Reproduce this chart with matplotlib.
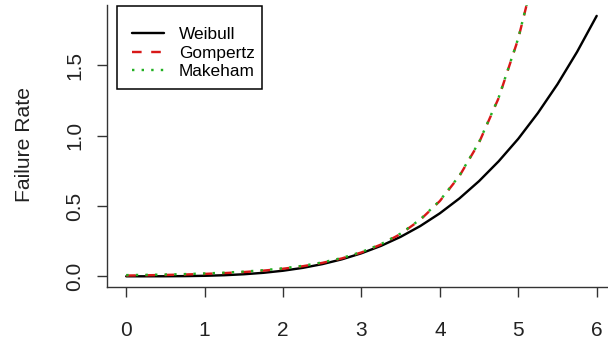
import matplotlib
matplotlib.use("Agg")
import matplotlib.pyplot as plt
from matplotlib.patches import Rectangle

# time grid and failure rates
t = [0.0, 0.25, 0.5, 0.75, 1.0, 1.25, 1.5, 1.75, 2.0, 2.25, 2.5, 2.75, 3.0,
     3.25, 3.5, 3.75, 4.0, 4.25, 4.5, 4.75, 5.0, 5.25, 5.5, 5.75, 6.0]
weibull = [0.0, 0.0000, 0.0003, 0.0013, 0.0035, 0.0076, 0.0145, 0.0248, 0.0396,
           0.0598, 0.0865, 0.1207, 0.1637, 0.2166, 0.2807, 0.3574, 0.448, 0.554,
           0.677, 0.818, 0.978, 1.161, 1.366, 1.596, 1.852]
gompertz = [0.0054, 0.0072, 0.0096, 0.0127, 0.0170, 0.0227, 0.0302, 0.0403, 0.0537,
            0.0715, 0.0954, 0.1271, 0.1695, 0.2259, 0.3012, 0.4015, 0.5352, 0.7135,
            0.9512, 1.268, 1.690, 2.253, 3.00, 4.00, 5.33]
makeham = [0.0084, 0.0102, 0.0126, 0.0157, 0.0200, 0.0257, 0.0332, 0.0433, 0.0567,
           0.0745, 0.0984, 0.1301, 0.1725, 0.2289, 0.3042, 0.4045, 0.5382, 0.7165,
           0.9542, 1.271, 1.693, 2.256, 3.00, 4.00, 5.33]

labels = ["Weibull", "Gompertz", "Makeham"]
xticks = [0, 1, 2, 3, 4, 5, 6]
yticks = [0.0, 0.5, 1.0, 1.5]

plt.rcParams["font.family"] = ["Liberation Sans", "DejaVu Sans"]

W, H = 608, 343
fig = plt.figure(figsize=(W / 100, H / 100), dpi=100)
# axes runs past the right edge, like the cropped R plot
ax = fig.add_axes([107.4 / W, (H - 286.7) / H, 508.1 / W, 282.2 / H])

px = 72 / 100  # one pixel in points
lw = 2.4 * px
ax.plot(t, weibull, color="black", lw=lw, label=labels[0],
        solid_capstyle="round", zorder=3)
ax.plot(t, gompertz, color="#D81818", lw=lw, linestyle=(0, (4, 4)),
        label=labels[1], zorder=4)
ax.plot(t, makeham, color="#22B022", lw=lw, linestyle=(0, (1, 3)),
        label=labels[2], zorder=5)

ax.set_xlim(-0.24, 6.24)
ax.set_ylim(-0.074, 1.933)

for side in ["top", "right"]:
    ax.spines[side].set_visible(False)
for side in ["left", "bottom"]:
    ax.spines[side].set_linewidth(1.0)
    ax.spines[side].set_color("#333333")

ax.set_xticks(xticks)
ax.set_xticklabels([str(v) for v in xticks])
ax.set_yticks(yticks)
ax.set_yticklabels([f"{v:.1f}" for v in yticks], rotation=90, va="center")
ax.tick_params(axis="both", length=7.5, width=1.0, color="#333333",
               labelsize=15, labelcolor="#222222")
ax.tick_params(axis="x", pad=17)
ax.tick_params(axis="y", pad=9)

fig.text(25 / W, (H - 145) / H, "Failure Rate", rotation=90, fontsize=15.2,
         ha="center", va="center", color="#222222")

# legend entries without frame, box drawn separately (R style box)
leg = ax.legend(loc="upper left", bbox_to_anchor=(116.7 / W, (H - 11.7) / H),
                bbox_transform=fig.transFigure, borderaxespad=0,
                fontsize=12.4, frameon=False,
                handlelength=1.86, handletextpad=0.85, labelspacing=0.2,
                borderpad=0.9)
fig.patches.append(Rectangle((116.7 / W, (H - 89.3) / H), 145 / W, 83.6 / H,
                             transform=fig.transFigure, fill=False,
                             edgecolor="black", linewidth=1.1))

fig.savefig("out.png", dpi=100)
